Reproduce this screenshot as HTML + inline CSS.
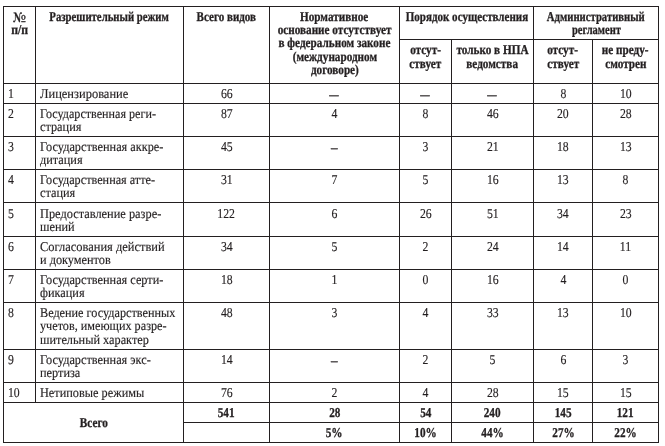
<!DOCTYPE html>
<html><head><meta charset="utf-8"><style>
html{background:#fff}
body{margin:0;padding:0;width:665px;height:446px;overflow:hidden;position:relative;will-change:transform}
.l{position:absolute;background:#231f20}
.t{position:absolute;font-family:"Liberation Serif","DejaVu Serif",serif;font-size:13.5px;line-height:15px;height:15px;color:#231f20;white-space:nowrap;text-rendering:geometricPrecision}
.t>span{display:inline-block}
.h{font-weight:bold;-webkit-text-stroke:0.3px #231f20}
.b{-webkit-text-stroke:0.15px #231f20}
.no{font-family:'Noto Serif CJK SC','Liberation Serif',serif;font-weight:bold;font-size:13px;display:inline-block;transform:scaleX(0.88)}
.md{display:inline-block;position:relative;left:-0.6px;top:1px;transform:scaleX(0.8);-webkit-text-stroke:0.3px #231f20}
.nd{display:inline-block;position:relative;left:-0.3px;top:1px;transform:scaleX(1.12);-webkit-text-stroke:0.3px #231f20}
</style></head><body>
<div class="l" style="left:3px;top:6px;width:656px;height:1px"></div>
<div class="l" style="left:399px;top:39px;width:260px;height:1px"></div>
<div class="l" style="left:3px;top:83px;width:656px;height:1px"></div>
<div class="l" style="left:3px;top:103px;width:656px;height:1px"></div>
<div class="l" style="left:3px;top:136px;width:656px;height:1px"></div>
<div class="l" style="left:3px;top:169px;width:656px;height:1px"></div>
<div class="l" style="left:3px;top:202px;width:656px;height:1px"></div>
<div class="l" style="left:3px;top:236px;width:656px;height:1px"></div>
<div class="l" style="left:3px;top:269px;width:656px;height:1px"></div>
<div class="l" style="left:3px;top:302px;width:656px;height:1px"></div>
<div class="l" style="left:3px;top:349px;width:656px;height:1px"></div>
<div class="l" style="left:3px;top:382px;width:656px;height:1px"></div>
<div class="l" style="left:3px;top:402px;width:656px;height:1px"></div>
<div class="l" style="left:3px;top:442px;width:656px;height:1px"></div>
<div class="l" style="left:183px;top:422px;width:476px;height:1px"></div>
<div class="l" style="left:3px;top:6px;width:1px;height:437px"></div>
<div class="l" style="left:658px;top:6px;width:1px;height:437px"></div>
<div class="l" style="left:35px;top:6px;width:1px;height:397px"></div>
<div class="l" style="left:183px;top:6px;width:1px;height:437px"></div>
<div class="l" style="left:269px;top:6px;width:1px;height:437px"></div>
<div class="l" style="left:399px;top:6px;width:1px;height:437px"></div>
<div class="l" style="left:533px;top:6px;width:1px;height:437px"></div>
<div class="l" style="left:451px;top:39px;width:1px;height:404px"></div>
<div class="l" style="left:592px;top:39px;width:1px;height:404px"></div>
<div class="t h" style="left:-130.50px;top:9px;width:300px;text-align:center"><span style="transform:scaleX(1);transform-origin:center"><span class="no">№</span></span></div>
<div class="t h" style="left:-130.20px;top:22px;width:300px;text-align:center"><span style="transform:scaleX(0.87);transform-origin:center">п/п</span></div>
<div class="t h" style="left:-40.50px;top:9px;width:300px;text-align:center"><span style="transform:scaleX(0.796);transform-origin:center">Разрешительный режим</span></div>
<div class="t h" style="left:76.50px;top:9px;width:300px;text-align:center"><span style="transform:scaleX(0.818);transform-origin:center">Всего видов</span></div>
<div class="t h" style="left:184.50px;top:9px;width:300px;text-align:center"><span style="transform:scaleX(0.83);transform-origin:center">Нормативное</span></div>
<div class="t h" style="left:184.50px;top:22px;width:300px;text-align:center"><span style="transform:scaleX(0.83);transform-origin:center">основание отсутствует</span></div>
<div class="t h" style="left:184.50px;top:35px;width:300px;text-align:center"><span style="transform:scaleX(0.83);transform-origin:center">в федеральном законе</span></div>
<div class="t h" style="left:184.50px;top:49px;width:300px;text-align:center"><span style="transform:scaleX(0.83);transform-origin:center">(международном</span></div>
<div class="t h" style="left:184.50px;top:62px;width:300px;text-align:center"><span style="transform:scaleX(0.83);transform-origin:center">договоре)</span></div>
<div class="t h" style="left:316.50px;top:9px;width:300px;text-align:center"><span style="transform:scaleX(0.817);transform-origin:center">Порядок осуществления</span></div>
<div class="t h" style="left:446.00px;top:9px;width:300px;text-align:center"><span style="transform:scaleX(0.792);transform-origin:center">Административный</span></div>
<div class="t h" style="left:446.00px;top:22px;width:300px;text-align:center"><span style="transform:scaleX(0.78);transform-origin:center">регламент</span></div>
<div class="t h" style="left:275.50px;top:42px;width:300px;text-align:center"><span style="transform:scaleX(0.83);transform-origin:center">отсут-</span></div>
<div class="t h" style="left:275.50px;top:56px;width:300px;text-align:center"><span style="transform:scaleX(0.83);transform-origin:center">ствует</span></div>
<div class="t h" style="left:342.50px;top:42px;width:300px;text-align:center"><span style="transform:scaleX(0.83);transform-origin:center">только в НПА</span></div>
<div class="t h" style="left:342.50px;top:56px;width:300px;text-align:center"><span style="transform:scaleX(0.83);transform-origin:center">ведомства</span></div>
<div class="t h" style="left:413.00px;top:42px;width:300px;text-align:center"><span style="transform:scaleX(0.83);transform-origin:center">отсут-</span></div>
<div class="t h" style="left:413.00px;top:56px;width:300px;text-align:center"><span style="transform:scaleX(0.83);transform-origin:center">ствует</span></div>
<div class="t h" style="left:475.50px;top:42px;width:300px;text-align:center"><span style="transform:scaleX(0.83);transform-origin:center">не преду-</span></div>
<div class="t h" style="left:475.50px;top:56px;width:300px;text-align:center"><span style="transform:scaleX(0.83);transform-origin:center">смотрен</span></div>
<div class="t b" style="left:7.50px;top:86px"><span style="transform:scaleX(0.87);transform-origin:left">1</span></div>
<div class="t b" style="left:40.00px;top:86px"><span style="transform:scaleX(0.9246);transform-origin:left">Лицензирование</span></div>
<div class="t b" style="left:76.50px;top:86px;width:300px;text-align:center"><span style="transform:scaleX(0.87);transform-origin:center">66</span></div>
<div class="t b" style="left:184.50px;top:86px;width:300px;text-align:center"><span style="transform:scaleX(0.87);transform-origin:center"><span class="md">—</span></span></div>
<div class="t b" style="left:275.50px;top:86px;width:300px;text-align:center"><span style="transform:scaleX(0.87);transform-origin:center"><span class="md">—</span></span></div>
<div class="t b" style="left:342.50px;top:86px;width:300px;text-align:center"><span style="transform:scaleX(0.87);transform-origin:center"><span class="md">—</span></span></div>
<div class="t b" style="left:413.00px;top:86px;width:300px;text-align:center"><span style="transform:scaleX(0.87);transform-origin:center">8</span></div>
<div class="t b" style="left:475.50px;top:86px;width:300px;text-align:center"><span style="transform:scaleX(0.87);transform-origin:center">10</span></div>
<div class="t b" style="left:7.50px;top:106px"><span style="transform:scaleX(0.87);transform-origin:left">2</span></div>
<div class="t b" style="left:40.00px;top:106px"><span style="transform:scaleX(0.897);transform-origin:left">Государственная реги-</span></div>
<div class="t b" style="left:40.00px;top:119px"><span style="transform:scaleX(0.91);transform-origin:left">страция</span></div>
<div class="t b" style="left:76.50px;top:106px;width:300px;text-align:center"><span style="transform:scaleX(0.87);transform-origin:center">87</span></div>
<div class="t b" style="left:184.50px;top:106px;width:300px;text-align:center"><span style="transform:scaleX(0.87);transform-origin:center">4</span></div>
<div class="t b" style="left:275.50px;top:106px;width:300px;text-align:center"><span style="transform:scaleX(0.87);transform-origin:center">8</span></div>
<div class="t b" style="left:342.50px;top:106px;width:300px;text-align:center"><span style="transform:scaleX(0.87);transform-origin:center">46</span></div>
<div class="t b" style="left:413.00px;top:106px;width:300px;text-align:center"><span style="transform:scaleX(0.87);transform-origin:center">20</span></div>
<div class="t b" style="left:475.50px;top:106px;width:300px;text-align:center"><span style="transform:scaleX(0.87);transform-origin:center">28</span></div>
<div class="t b" style="left:7.50px;top:139px"><span style="transform:scaleX(0.87);transform-origin:left">3</span></div>
<div class="t b" style="left:40.00px;top:139px"><span style="transform:scaleX(0.91);transform-origin:left">Государственная аккре-</span></div>
<div class="t b" style="left:40.00px;top:152px"><span style="transform:scaleX(0.91);transform-origin:left">дитация</span></div>
<div class="t b" style="left:76.50px;top:139px;width:300px;text-align:center"><span style="transform:scaleX(0.87);transform-origin:center">45</span></div>
<div class="t b" style="left:184.50px;top:139px;width:300px;text-align:center"><span style="transform:scaleX(0.87);transform-origin:center"><span class="nd">–</span></span></div>
<div class="t b" style="left:275.50px;top:139px;width:300px;text-align:center"><span style="transform:scaleX(0.87);transform-origin:center">3</span></div>
<div class="t b" style="left:342.50px;top:139px;width:300px;text-align:center"><span style="transform:scaleX(0.87);transform-origin:center">21</span></div>
<div class="t b" style="left:413.00px;top:139px;width:300px;text-align:center"><span style="transform:scaleX(0.87);transform-origin:center">18</span></div>
<div class="t b" style="left:475.50px;top:139px;width:300px;text-align:center"><span style="transform:scaleX(0.87);transform-origin:center">13</span></div>
<div class="t b" style="left:7.50px;top:172px"><span style="transform:scaleX(0.87);transform-origin:left">4</span></div>
<div class="t b" style="left:40.00px;top:172px"><span style="transform:scaleX(0.9045);transform-origin:left">Государственная атте-</span></div>
<div class="t b" style="left:40.00px;top:185px"><span style="transform:scaleX(0.91);transform-origin:left">стация</span></div>
<div class="t b" style="left:76.50px;top:172px;width:300px;text-align:center"><span style="transform:scaleX(0.87);transform-origin:center">31</span></div>
<div class="t b" style="left:184.50px;top:172px;width:300px;text-align:center"><span style="transform:scaleX(0.87);transform-origin:center">7</span></div>
<div class="t b" style="left:275.50px;top:172px;width:300px;text-align:center"><span style="transform:scaleX(0.87);transform-origin:center">5</span></div>
<div class="t b" style="left:342.50px;top:172px;width:300px;text-align:center"><span style="transform:scaleX(0.87);transform-origin:center">16</span></div>
<div class="t b" style="left:413.00px;top:172px;width:300px;text-align:center"><span style="transform:scaleX(0.87);transform-origin:center">13</span></div>
<div class="t b" style="left:475.50px;top:172px;width:300px;text-align:center"><span style="transform:scaleX(0.87);transform-origin:center">8</span></div>
<div class="t b" style="left:7.50px;top:206px"><span style="transform:scaleX(0.87);transform-origin:left">5</span></div>
<div class="t b" style="left:40.00px;top:206px"><span style="transform:scaleX(0.916);transform-origin:left">Предоставление разре-</span></div>
<div class="t b" style="left:40.00px;top:219px"><span style="transform:scaleX(0.91);transform-origin:left">шений</span></div>
<div class="t b" style="left:76.50px;top:206px;width:300px;text-align:center"><span style="transform:scaleX(0.87);transform-origin:center">122</span></div>
<div class="t b" style="left:184.50px;top:206px;width:300px;text-align:center"><span style="transform:scaleX(0.87);transform-origin:center">6</span></div>
<div class="t b" style="left:275.50px;top:206px;width:300px;text-align:center"><span style="transform:scaleX(0.87);transform-origin:center">26</span></div>
<div class="t b" style="left:342.50px;top:206px;width:300px;text-align:center"><span style="transform:scaleX(0.87);transform-origin:center">51</span></div>
<div class="t b" style="left:413.00px;top:206px;width:300px;text-align:center"><span style="transform:scaleX(0.87);transform-origin:center">34</span></div>
<div class="t b" style="left:475.50px;top:206px;width:300px;text-align:center"><span style="transform:scaleX(0.87);transform-origin:center">23</span></div>
<div class="t b" style="left:7.50px;top:239px"><span style="transform:scaleX(0.87);transform-origin:left">6</span></div>
<div class="t b" style="left:40.00px;top:239px"><span style="transform:scaleX(0.9226);transform-origin:left">Согласования действий</span></div>
<div class="t b" style="left:40.00px;top:252px"><span style="transform:scaleX(0.91);transform-origin:left">и документов</span></div>
<div class="t b" style="left:76.50px;top:239px;width:300px;text-align:center"><span style="transform:scaleX(0.87);transform-origin:center">34</span></div>
<div class="t b" style="left:184.50px;top:239px;width:300px;text-align:center"><span style="transform:scaleX(0.87);transform-origin:center">5</span></div>
<div class="t b" style="left:275.50px;top:239px;width:300px;text-align:center"><span style="transform:scaleX(0.87);transform-origin:center">2</span></div>
<div class="t b" style="left:342.50px;top:239px;width:300px;text-align:center"><span style="transform:scaleX(0.87);transform-origin:center">24</span></div>
<div class="t b" style="left:413.00px;top:239px;width:300px;text-align:center"><span style="transform:scaleX(0.87);transform-origin:center">14</span></div>
<div class="t b" style="left:475.50px;top:239px;width:300px;text-align:center"><span style="transform:scaleX(0.87);transform-origin:center">11</span></div>
<div class="t b" style="left:7.50px;top:272px"><span style="transform:scaleX(0.87);transform-origin:left">7</span></div>
<div class="t b" style="left:40.00px;top:272px"><span style="transform:scaleX(0.91);transform-origin:left">Государственная серти-</span></div>
<div class="t b" style="left:40.00px;top:285px"><span style="transform:scaleX(0.91);transform-origin:left">фикация</span></div>
<div class="t b" style="left:76.50px;top:272px;width:300px;text-align:center"><span style="transform:scaleX(0.87);transform-origin:center">18</span></div>
<div class="t b" style="left:184.50px;top:272px;width:300px;text-align:center"><span style="transform:scaleX(0.87);transform-origin:center">1</span></div>
<div class="t b" style="left:275.50px;top:272px;width:300px;text-align:center"><span style="transform:scaleX(0.87);transform-origin:center">0</span></div>
<div class="t b" style="left:342.50px;top:272px;width:300px;text-align:center"><span style="transform:scaleX(0.87);transform-origin:center">16</span></div>
<div class="t b" style="left:413.00px;top:272px;width:300px;text-align:center"><span style="transform:scaleX(0.87);transform-origin:center">4</span></div>
<div class="t b" style="left:475.50px;top:272px;width:300px;text-align:center"><span style="transform:scaleX(0.87);transform-origin:center">0</span></div>
<div class="t b" style="left:7.50px;top:305px"><span style="transform:scaleX(0.87);transform-origin:left">8</span></div>
<div class="t b" style="left:40.00px;top:305px"><span style="transform:scaleX(0.9046);transform-origin:left">Ведение государственных</span></div>
<div class="t b" style="left:40.00px;top:318px"><span style="transform:scaleX(0.9036);transform-origin:left">учетов, имеющих разре-</span></div>
<div class="t b" style="left:40.00px;top:332px"><span style="transform:scaleX(0.91);transform-origin:left">шительный характер</span></div>
<div class="t b" style="left:76.50px;top:305px;width:300px;text-align:center"><span style="transform:scaleX(0.87);transform-origin:center">48</span></div>
<div class="t b" style="left:184.50px;top:305px;width:300px;text-align:center"><span style="transform:scaleX(0.87);transform-origin:center">3</span></div>
<div class="t b" style="left:275.50px;top:305px;width:300px;text-align:center"><span style="transform:scaleX(0.87);transform-origin:center">4</span></div>
<div class="t b" style="left:342.50px;top:305px;width:300px;text-align:center"><span style="transform:scaleX(0.87);transform-origin:center">33</span></div>
<div class="t b" style="left:413.00px;top:305px;width:300px;text-align:center"><span style="transform:scaleX(0.87);transform-origin:center">13</span></div>
<div class="t b" style="left:475.50px;top:305px;width:300px;text-align:center"><span style="transform:scaleX(0.87);transform-origin:center">10</span></div>
<div class="t b" style="left:7.50px;top:352px"><span style="transform:scaleX(0.87);transform-origin:left">9</span></div>
<div class="t b" style="left:40.00px;top:352px"><span style="transform:scaleX(0.91);transform-origin:left">Государственная экс-</span></div>
<div class="t b" style="left:40.00px;top:365px"><span style="transform:scaleX(0.91);transform-origin:left">пертиза</span></div>
<div class="t b" style="left:76.50px;top:352px;width:300px;text-align:center"><span style="transform:scaleX(0.87);transform-origin:center">14</span></div>
<div class="t b" style="left:184.50px;top:352px;width:300px;text-align:center"><span style="transform:scaleX(0.87);transform-origin:center"><span class="nd">–</span></span></div>
<div class="t b" style="left:275.50px;top:352px;width:300px;text-align:center"><span style="transform:scaleX(0.87);transform-origin:center">2</span></div>
<div class="t b" style="left:342.50px;top:352px;width:300px;text-align:center"><span style="transform:scaleX(0.87);transform-origin:center">5</span></div>
<div class="t b" style="left:413.00px;top:352px;width:300px;text-align:center"><span style="transform:scaleX(0.87);transform-origin:center">6</span></div>
<div class="t b" style="left:475.50px;top:352px;width:300px;text-align:center"><span style="transform:scaleX(0.87);transform-origin:center">3</span></div>
<div class="t b" style="left:7.50px;top:385px"><span style="transform:scaleX(0.87);transform-origin:left">10</span></div>
<div class="t b" style="left:40.00px;top:385px"><span style="transform:scaleX(0.91);transform-origin:left">Нетиповые режимы</span></div>
<div class="t b" style="left:76.50px;top:385px;width:300px;text-align:center"><span style="transform:scaleX(0.87);transform-origin:center">76</span></div>
<div class="t b" style="left:184.50px;top:385px;width:300px;text-align:center"><span style="transform:scaleX(0.87);transform-origin:center">2</span></div>
<div class="t b" style="left:275.50px;top:385px;width:300px;text-align:center"><span style="transform:scaleX(0.87);transform-origin:center">4</span></div>
<div class="t b" style="left:342.50px;top:385px;width:300px;text-align:center"><span style="transform:scaleX(0.87);transform-origin:center">28</span></div>
<div class="t b" style="left:413.00px;top:385px;width:300px;text-align:center"><span style="transform:scaleX(0.87);transform-origin:center">15</span></div>
<div class="t b" style="left:475.50px;top:385px;width:300px;text-align:center"><span style="transform:scaleX(0.87);transform-origin:center">15</span></div>
<div class="t h" style="left:-56.10px;top:415px;width:300px;text-align:center"><span style="transform:scaleX(0.83);transform-origin:center">Всего</span></div>
<div class="t h" style="left:76.50px;top:405px;width:300px;text-align:center"><span style="transform:scaleX(0.83);transform-origin:center">541</span></div>
<div class="t h" style="left:184.50px;top:405px;width:300px;text-align:center"><span style="transform:scaleX(0.83);transform-origin:center">28</span></div>
<div class="t h" style="left:275.50px;top:405px;width:300px;text-align:center"><span style="transform:scaleX(0.83);transform-origin:center">54</span></div>
<div class="t h" style="left:342.50px;top:405px;width:300px;text-align:center"><span style="transform:scaleX(0.83);transform-origin:center">240</span></div>
<div class="t h" style="left:413.00px;top:405px;width:300px;text-align:center"><span style="transform:scaleX(0.83);transform-origin:center">145</span></div>
<div class="t h" style="left:475.50px;top:405px;width:300px;text-align:center"><span style="transform:scaleX(0.83);transform-origin:center">121</span></div>
<div class="t h" style="left:184.50px;top:425px;width:300px;text-align:center"><span style="transform:scaleX(0.83);transform-origin:center">5%</span></div>
<div class="t h" style="left:275.50px;top:425px;width:300px;text-align:center"><span style="transform:scaleX(0.83);transform-origin:center">10%</span></div>
<div class="t h" style="left:342.50px;top:425px;width:300px;text-align:center"><span style="transform:scaleX(0.83);transform-origin:center">44%</span></div>
<div class="t h" style="left:413.00px;top:425px;width:300px;text-align:center"><span style="transform:scaleX(0.83);transform-origin:center">27%</span></div>
<div class="t h" style="left:475.50px;top:425px;width:300px;text-align:center"><span style="transform:scaleX(0.83);transform-origin:center">22%</span></div>
</body></html>
